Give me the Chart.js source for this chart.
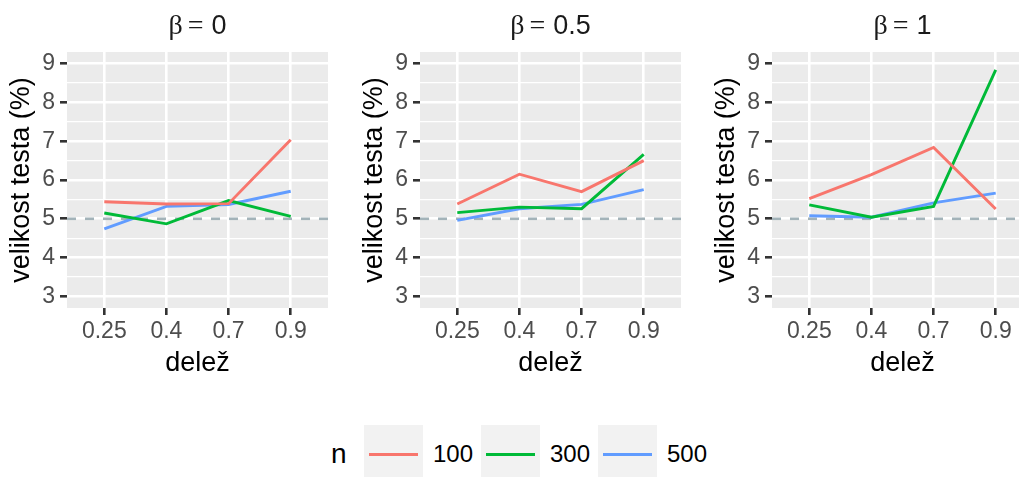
<!DOCTYPE html>
<html>
<head>
<meta charset="utf-8">
<title>velikost testa</title>
<script src="https://cdn.jsdelivr.net/npm/chart.js@4/dist/chart.umd.min.js"></script>
<style>
  body {
    margin: 0;
    width: 1019px;
    height: 477px;
    overflow: hidden;
    position: relative;
    background: #ffffff;
    font-family: "Liberation Sans", Arial, sans-serif;
  }
  canvas.panel { position: absolute; top: 0; }
  .legend-title {
    position: absolute; left: 331px; top: 454px;
    transform: translateY(-50%);
    font-size: 28px; color: #000;
  }
  .legend-key {
    position: absolute; top: 425px; width: 59px; height: 59px;
    background: #f2f2f2;
  }
  .legend-key span {
    position: absolute; left: 5px; width: 49px; top: 27.5px; height: 3px;
  }
  .legend-label {
    position: absolute; top: 454px;
    transform: translateY(-50%);
    font-size: 24px; color: #000;
  }
</style>
</head>
<body>
<canvas class="panel" id="panel0" width="340" height="380" style="left:0px"></canvas>
<canvas class="panel" id="panel1" width="340" height="380" style="left:353px"></canvas>
<canvas class="panel" id="panel2" width="340" height="380" style="left:705px"></canvas>
<div id="legend"></div>

<script>
// x categories (delež) and facets
const shares = ['0.25', '0.4', '0.7', '0.9'];
const betas = ['0', '0.5', '1'];
const sampleSizes = ['100', '300', '500'];
const yTicks = [3, 4, 5, 6, 7, 8, 9];
const nominalLevel = 5;

// velikost testa (%) for each beta and n
const beta0_n100 = [5.44, 5.38, 5.39, 7.04];
const beta0_n300 = [5.15, 4.87, 5.47, 5.06];
const beta0_n500 = [4.74, 5.32, 5.37, 5.71];

const beta05_n100 = [5.38, 6.15, 5.70, 6.50];
const beta05_n300 = [5.16, 5.30, 5.26, 6.66];
const beta05_n500 = [4.96, 5.26, 5.37, 5.75];

const beta1_n100 = [5.52, 6.14, 6.84, 5.25];
const beta1_n300 = [5.36, 5.04, 5.32, 8.84];
const beta1_n500 = [5.08, 5.04, 5.41, 5.66];

const lineColors = ['#F8766D', '#00BA38', '#619CFF'];

Chart.defaults.font.family = '"Liberation Sans", Arial, sans-serif';

// grey panel background
const panelBackground = {
  id: 'panelBackground',
  beforeDraw(chart) {
    const a = chart.chartArea;
    const ctx = chart.ctx;
    ctx.save();
    ctx.fillStyle = '#EBEBEB';
    ctx.fillRect(a.left, a.top, a.right - a.left, a.bottom - a.top);
    ctx.restore();
  }
};

// dashed reference line at the nominal level
const nominalLine = {
  id: 'nominalLine',
  beforeDatasetsDraw(chart) {
    const a = chart.chartArea;
    const y = chart.scales.y.getPixelForValue(nominalLevel);
    const ctx = chart.ctx;
    ctx.save();
    ctx.strokeStyle = '#A3B3B9';
    ctx.lineWidth = 2.6;
    ctx.setLineDash([9, 9]);
    ctx.beginPath();
    ctx.moveTo(a.left, y);
    ctx.lineTo(a.right, y);
    ctx.stroke();
    ctx.restore();
  }
};

// facet label "β = value"
const stripTitle = {
  id: 'stripTitle',
  afterDraw(chart, args, opts) {
    const a = chart.chartArea;
    const ctx = chart.ctx;
    const serif = '28px "Liberation Serif", serif';
    const sans = '27px "Liberation Sans", Arial, sans-serif';
    ctx.save();
    ctx.fillStyle = '#1A1A1A';
    ctx.textBaseline = 'middle';
    ctx.textAlign = 'left';
    ctx.font = serif;
    const wb = ctx.measureText('β').width;
    const we = ctx.measureText('=').width;
    ctx.font = sans;
    const wv = ctx.measureText(opts.text).width;
    const gap1 = 5, gap2 = 8;
    let x = (a.left + a.right) / 2 - (wb + gap1 + we + gap2 + wv) / 2;
    const y = 27;
    ctx.font = serif;
    ctx.fillText('β', x, y);
    x += wb + gap1;
    ctx.fillText('=', x, y);
    x += we + gap2;
    ctx.font = sans;
    ctx.fillText(opts.text, x, y);
    ctx.restore();
  }
};

const minorTicks = yTicks.slice(1).map(v => v - 0.5);
const allYTicks = yTicks.concat(minorTicks).sort((p, q) => p - q);
const isMajor = v => Number.isInteger(v);

function makePanel(canvasId, beta, series) {
  return new Chart(document.getElementById(canvasId), {
    type: 'line',
    data: {
      datasets: series.map((vals, i) => ({
        label: sampleSizes[i],
        data: vals.map((v, j) => ({ x: j, y: v })),
        borderColor: lineColors[i],
        borderWidth: 2.9,
        pointRadius: 0,
        tension: 0,
        fill: false
      }))
    },
    options: {
      responsive: false,
      animation: false,
      events: [],
      layout: { padding: { top: 52, right: 12, left: 0, bottom: 0 } },
      plugins: {
        legend: { display: false },
        tooltip: { enabled: false },
        stripTitle: { text: beta }
      },
      scales: {
        x: {
          type: 'linear',
          min: -0.6,
          max: 3.6,
          afterBuildTicks: s => { s.ticks = shares.map((_, i) => ({ value: i })); },
          afterFit: s => { s.height = 72; },
          ticks: {
            callback: v => shares[v],
            color: '#4D4D4D',
            font: { size: 23 },
            padding: 3,
            maxRotation: 0,
            autoSkip: false
          },
          grid: {
            color: '#FFFFFF',
            lineWidth: 2.6,
            tickColor: '#333333',
            tickLength: 7,
            tickWidth: 2.6
          },
          border: { display: false },
          title: {
            display: true,
            text: 'delež',
            color: '#000000',
            font: { size: 27 },
            padding: { top: 0, bottom: 0 }
          }
        },
        y: {
          type: 'linear',
          min: 2.7,
          max: 9.3,
          afterBuildTicks: s => { s.ticks = allYTicks.map(v => ({ value: v })); },
          afterFit: s => { s.width = 67; },
          ticks: {
            callback: v => isMajor(v) ? String(v) : '',
            color: '#4D4D4D',
            font: { size: 23 },
            padding: 5,
            autoSkip: false
          },
          grid: {
            color: '#FFFFFF',
            lineWidth: c => isMajor(c.tick.value) ? 2.6 : 1.3,
            tickColor: c => isMajor(c.tick.value) ? '#333333' : 'rgba(0,0,0,0)',
            tickLength: 7,
            tickWidth: 2.6
          },
          border: { display: false },
          title: {
            display: true,
            text: 'velikost testa (%)',
            color: '#000000',
            font: { size: 27 },
            padding: { top: 5, bottom: 0 }
          }
        }
      }
    },
    plugins: [panelBackground, nominalLine, stripTitle]
  });
}

makePanel('panel0', betas[0], [beta0_n100, beta0_n300, beta0_n500]);
makePanel('panel1', betas[1], [beta05_n100, beta05_n300, beta05_n500]);
makePanel('panel2', betas[2], [beta1_n100, beta1_n300, beta1_n500]);

// legend for n
const legend = document.getElementById('legend');
const title = document.createElement('div');
title.className = 'legend-title';
title.textContent = 'n';
legend.appendChild(title);
sampleSizes.forEach((n, i) => {
  const left = 364 + i * 117;
  const key = document.createElement('div');
  key.className = 'legend-key';
  key.style.left = left + 'px';
  const line = document.createElement('span');
  line.style.background = lineColors[i];
  key.appendChild(line);
  legend.appendChild(key);
  const label = document.createElement('div');
  label.className = 'legend-label';
  label.style.left = (left + 69) + 'px';
  label.textContent = n;
  legend.appendChild(label);
});
</script>
</body>
</html>
